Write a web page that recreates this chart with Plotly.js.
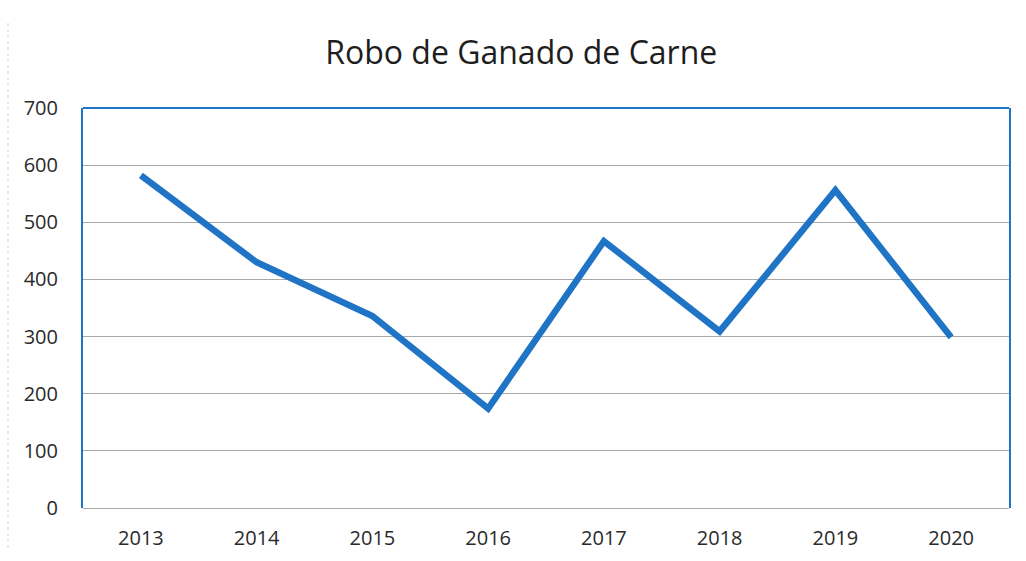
<!DOCTYPE html>
<html>
<head>
<meta charset="utf-8">
<script src="https://cdn.plot.ly/plotly-3.0.1.min.js"></script>
<style>html,body{margin:0;padding:0;background:#fff;}#chart{width:1026px;height:561px;}</style>
</head>
<body>
<div id="chart"></div>
<script>
const years = ["2013","2014","2015","2016","2017","2018","2019","2020"];
const robos = [582, 430, 336, 174, 467, 309, 556, 299];
const yTicks = [0, 100, 200, 300, 400, 500, 600, 700];

const trace = {
  x: years, y: robos, type: "scatter", mode: "lines",
  line: {color: "#1f74c6", width: 6.5, shape: "linear"},
  hoverinfo: "x+y"
};

const tickFont = {family: "Open Sans, Noto Sans, sans-serif", size: 20, color: "#2a2a2a"};

const layout = {
  width: 1026, height: 561,
  margin: {l: 83, r: 17, t: 108, b: 53},
  paper_bgcolor: "#ffffff", plot_bgcolor: "#ffffff",
  showlegend: false,
  title: {text: "Robo de Ganado de Carne", x: 0.508, xanchor: "center", y: 0.905, yanchor: "middle",
          font: {family: "Open Sans, Noto Sans, sans-serif", size: 32, color: "#1e1e1e"}},
  xaxis: {type: "category", range: [-0.5, 7.5], showgrid: false, showline: false, zeroline: false,
          ticks: "", tickfont: tickFont, ticklabelstandoff: 16},
  yaxis: {range: [0, 700], tickvals: yTicks, showgrid: true, gridcolor: "#a8a8a8", gridwidth: 1,
          zeroline: true, zerolinecolor: "#a8a8a8", zerolinewidth: 1,
          showline: true, linecolor: "#1f74c6", linewidth: 2, mirror: true,
          ticks: "", tickfont: tickFont, ticklabelstandoff: 19},
  shapes: [
    {type: "line", xref: "paper", yref: "paper", x0: 0, x1: 1, y0: 1, y1: 1,
     line: {color: "#1f74c6", width: 2}},
    {type: "line", xref: "paper", yref: "paper", x0: -0.081, x1: -0.081, y0: -0.1, y1: 1.22,
     line: {color: "#d0d0d0", width: 1, dash: "dot"}}
  ]
};

Plotly.newPlot("chart", [trace], layout, {displayModeBar: false, staticPlot: true});
</script>
</body>
</html>
